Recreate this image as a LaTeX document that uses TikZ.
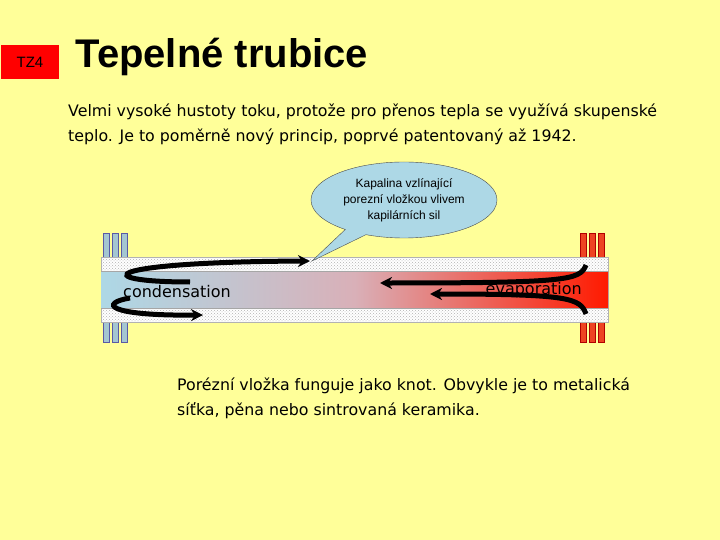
\documentclass[tikz,border=0pt]{standalone}
\usepackage{fontspec}
\setmainfont{DejaVu Sans}
\newfontfamily\arialf{Liberation Sans}
\usetikzlibrary{shapes.callouts,patterns,arrows.meta}
\definecolor{bg}{HTML}{FFFF99}
\definecolor{pale}{HTML}{ADD8E6}
\definecolor{hot}{HTML}{FF1A00}
\definecolor{fin}{HTML}{EE4422}
\definecolor{mid}{HTML}{D9B0B8}
\begin{document}
\begin{tikzpicture}[x=1pt,y=-1pt,
  flow/.style={line width=5pt,-{Stealth[length=12pt,width=12pt]}},
  coldfin/.style={fill=pale!80!gray,draw=gray!70!blue},
  hotfin/.style={fill=fin,draw=red!70!black}]
\fill[bg] (0,0) rectangle (720,540);
\useasboundingbox (0,0) rectangle (720,540);
\node[fill=red,minimum width=58pt,minimum height=34pt,inner sep=0pt,font=\arialf\fontsize{15}{16}\selectfont] (tz) at (30,62) {TZ4};
\node[anchor=west,font=\arialf\bfseries\fontsize{40}{44}\selectfont] (title) at (72,57) {Tepelné trubice};
\node[anchor=north west,align=left,font=\fontsize{15.8}{25}\selectfont,inner sep=0pt] (txt) at (68,104) {Velmi vysoké hustoty toku, protože pro přenos tepla se využívá skupenské\\teplo. Je to poměrně nový princip, poprvé patentovaný až 1942.};
% fins
\foreach \x in {103,112,121}{
  \draw[coldfin] (\x,233) rectangle ++(6,24);
  \draw[coldfin] (\x,322) rectangle ++(6,20);}
\foreach \x in {580,589,598}{
  \draw[hotfin] (\x,233) rectangle ++(6,24);
  \draw[hotfin] (\x,322) rectangle ++(6,20);}
% wick
\fill[white] (101,257) rectangle (608,271);
\fill[white] (101,308) rectangle (608,322);
\fill[pattern=crosshatch dots,pattern color=gray!60] (101,257) rectangle (608,271);
\fill[pattern=crosshatch dots,pattern color=gray!60] (101,308) rectangle (608,322);
\draw[gray!60] (101,257) rectangle (608,322);
% core
\shade[left color=pale,right color=hot,middle color=mid] (101,271) rectangle (608,308);
\draw[gray!70] (101,271) -- (608,271) (101,308) -- (608,308);
\node[anchor=west,font=\fontsize{16}{18}\selectfont,inner sep=0pt] (cond) at (123,292) {condensation};
\node[anchor=east,font=\fontsize{16}{18}\selectfont,inner sep=0pt] (evap) at (582,290) {evaporation};
% arrows
\draw[flow] (190,282) .. controls (90,282) and (95,262) .. (310,261);
\draw[flow] (130,298) .. controls (100,303) and (105,316) .. (203,315);
\draw[flow] (586,265) .. controls (580,280) and (570,283) .. (380,283);
\draw[flow] (586,314) .. controls (580,298) and (570,294) .. (430,294);
% callout
\node[ellipse callout,draw=gray!60!black,fill=pale,minimum width=186pt,minimum height=76pt,
  callout absolute pointer={(312,261)},align=center,inner sep=0pt,
  font=\arialf\fontsize{12}{16}\selectfont] (call) at (404,200)
  {Kapalina vzlínající\\porezní vložkou vlivem\\kapilárních sil};
\node[anchor=north west,align=left,font=\fontsize{15.8}{25}\selectfont,inner sep=0pt] (txt2) at (177,378) {Porézní vložka funguje jako knot. Obvykle je to metalická\\síťka, pěna nebo sintrovaná keramika.};
\end{tikzpicture}
\end{document}
